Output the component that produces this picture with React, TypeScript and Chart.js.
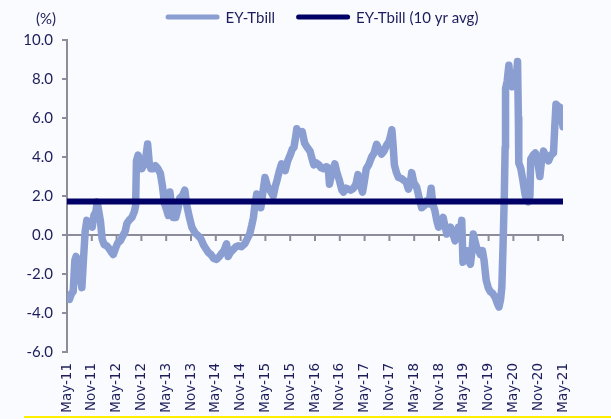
import React, { useEffect, useRef } from 'react';
import { Chart, registerables } from 'chart.js';

Chart.register(...registerables);

// x positions: months elapsed since May-2011
const tickLabels = [
  'May-11', 'Nov-11', 'May-12', 'Nov-12', 'May-13', 'Nov-13', 'May-14', 'Nov-14',
  'May-15', 'Nov-15', 'May-16', 'Nov-16', 'May-17', 'Nov-17', 'May-18', 'Nov-18',
  'May-19', 'Nov-19', 'May-20', 'Nov-20', 'May-21',
];

const monthOffsets = [
  0.0, 0.6, 1.1, 1.5, 1.9, 2.2, 2.6, 3.0, 3.3, 3.6, 4.0, 4.4, 4.8, 5.3, 5.8, 6.1, 6.5, 7.0, 7.3, 7.7,
  8.1, 8.5, 9.0, 9.6, 10.2, 10.8, 11.2, 11.7, 12.3, 12.9, 13.5, 14.1, 14.5, 15.0, 15.7, 16.3, 16.6, 16.8, 17.2, 17.6,
  18.1, 18.6, 19.0, 19.5, 19.9, 20.3, 20.9, 21.4, 22.0, 22.6, 23.1, 23.6, 24.1, 24.5, 24.9, 25.3, 25.7, 26.3, 26.8, 27.3,
  27.9, 28.5, 29.0, 29.5, 30.2, 31.0, 31.8, 32.4, 33.0, 33.6, 34.2, 34.8, 35.5, 36.2, 36.9, 37.4, 38.0, 38.6, 39.0, 39.5,
  40.2, 40.9, 41.5, 42.2, 43.0, 43.6, 44.2, 44.7, 45.1, 45.5, 45.9, 46.4, 46.9, 47.4, 47.9, 48.5, 49.1, 49.9, 50.4, 50.8,
  51.4, 51.9, 52.4, 52.8, 53.4, 54.0, 54.5, 54.9, 55.3, 55.6, 56.0, 56.5, 56.9, 57.5, 58.1, 58.8, 59.3, 59.7, 60.3, 60.9,
  61.5, 62.1, 62.7, 63.2, 63.5, 63.9, 64.4, 64.8, 65.3, 65.9, 66.5, 66.9, 67.5, 68.1, 68.7, 69.3, 69.9, 70.4, 70.9, 71.5,
  71.9, 72.4, 73.0, 73.7, 74.3, 74.9, 75.5, 76.1, 76.7, 77.3, 77.9, 78.3, 78.6, 78.9, 79.2, 79.7, 80.2, 80.9, 81.5, 82.1,
  82.6, 83.0, 83.4, 83.9, 84.6, 85.2, 85.8, 86.4, 87.0, 87.6, 88.1, 88.5, 89.0, 89.5, 89.9, 90.4, 91.0, 91.5, 91.9, 92.3,
  92.8, 93.3, 93.9, 94.3, 94.7, 95.2, 95.5, 95.8, 96.2, 96.7, 97.2, 97.6, 98.0, 98.3, 98.7, 99.1, 99.6, 100.0, 100.5, 100.9,
  101.4, 101.9, 102.4, 103.0, 103.6, 104.1, 104.5, 104.9, 105.2, 105.5, 105.8, 106.0, 106.1, 106.5, 106.9, 107.3, 107.7, 108.1, 108.6, 109.0,
  109.2, 109.3, 109.8, 110.3, 110.8, 111.2, 111.6, 112.0, 112.2, 112.8, 113.3, 113.8, 114.4, 114.8, 115.3, 115.9, 116.5, 117.1, 117.7, 118.0,
  118.3, 118.8, 119.3, 119.7, 120.0,
];

const eyTbill = [
  -3.2, -3.3, -3.0, -2.9, -1.3, -1.1, -1.4, -1.3, -2.3, -2.7, -1.2, 0.2, 0.75, 0.5, 0.6, 0.4, 1.0, 1.2, 1.7, 1.2,
  0.7, -0.2, -0.5, -0.55, -0.7, -0.9, -1.0, -0.7, -0.4, -0.3, -0.05, 0.2, 0.6, 0.75, 0.9, 1.2, 1.5, 3.8, 4.1, 3.8,
  3.4, 3.6, 3.9, 4.67, 3.7, 3.4, 3.4, 3.55, 3.4, 3.15, 2.5, 1.6, 1.3, 1.0, 2.2, 1.5, 0.9, 0.9, 1.3, 1.9,
  2.0, 2.3, 1.5, 1.0, 0.4, 0.1, -0.05, -0.2, -0.5, -0.7, -0.9, -1.0, -1.2, -1.25, -1.1, -0.95, -0.8, -0.45, -1.1, -0.9,
  -0.75, -0.6, -0.55, -0.6, -0.45, -0.2, 0.05, 0.5, 0.9, 1.6, 2.1, 1.6, 1.4, 2.2, 2.95, 2.5, 2.3, 2.0, 2.5, 2.8,
  3.3, 3.65, 3.4, 3.3, 3.8, 4.1, 4.4, 4.5, 5.0, 5.45, 5.2, 5.2, 5.3, 4.7, 4.5, 4.3, 3.9, 3.6, 3.7, 3.6,
  3.45, 3.4, 3.5, 3.45, 2.6, 3.0, 3.3, 3.65, 3.2, 2.8, 2.3, 2.2, 2.4, 2.35, 2.3, 2.4, 2.6, 3.1, 2.6, 2.2,
  2.7, 3.4, 3.6, 4.0, 4.2, 4.65, 4.4, 4.15, 4.3, 4.6, 4.8, 5.1, 5.4, 4.6, 3.6, 3.2, 2.95, 2.9, 2.8, 2.7,
  2.35, 2.6, 3.2, 2.7, 2.45, 1.9, 1.4, 1.5, 1.75, 1.6, 2.4, 1.6, 1.25, 0.7, 0.4, 0.6, 0.9, 0.4, 0.05, 0.2,
  0.4, 0.1, -0.3, 0.0, 0.4, 0.2, 0.75, -1.4, -1.1, -0.8, -1.3, -1.5, -0.8, 0.05, -0.3, -0.65, -0.8, -1.0, -0.8, -1.3,
  -2.3, -2.7, -2.9, -3.0, -3.2, -3.5, -3.7, -3.3, -2.7, -0.5, 2.0, 4.5, 7.5, 7.9, 8.7, 7.8, 7.6, 8.2, 7.8, 8.9,
  6.0, 3.7, 3.4, 2.8, 2.1, 1.8, 1.7, 2.0, 3.9, 4.1, 4.2, 3.9, 3.0, 3.8, 4.3, 4.0, 3.8, 4.1, 4.2, 5.5,
  6.7, 6.6, 6.55, 6.0, 5.55,
];

const avgMonths = [0, 120];
const avgValue = 1.72;

const seriesNames = ['EY-Tbill', 'EY-Tbill (10 yr avg)'];
const seriesColors = ['#8A9ED2', '#000066'];

const TEXT = '#1d1d5c';
const AXIS = '#8c8c9a';

export default function App() {
  const ref = useRef<HTMLCanvasElement>(null);

  useEffect(() => {
    if (!ref.current) return;

    const zeroLine = {
      id: 'zeroLine',
      beforeDatasetsDraw(chart: any) {
        const { ctx, chartArea, scales } = chart;
        const y = scales.y.getPixelForValue(0);
        ctx.save();
        ctx.strokeStyle = AXIS;
        ctx.lineWidth = 2;
        ctx.beginPath();
        ctx.moveTo(chartArea.left, y);
        ctx.lineTo(chartArea.right, y);
        scales.x.ticks.forEach((t: any) => {
          const x = scales.x.getPixelForValue(t.value);
          ctx.moveTo(x, y);
          ctx.lineTo(x, y + 6);
        });
        ctx.stroke();
        ctx.restore();
      },
    };

    const customLegend = {
      id: 'customLegend',
      afterDraw(chart: any) {
        const { ctx, chartArea, scales } = chart;
        ctx.save();
        ctx.font = '15px Lato';
        ctx.textBaseline = 'middle';
        ctx.textAlign = 'left';
        const y = 17;
        const sample = 54;
        const gap = 6;
        const between = 21;
        const widths = seriesNames.map((n) => ctx.measureText(n).width);
        const total = widths.reduce((a, w) => a + sample + gap + w, 0) + between;
        let x = (chartArea.left + chartArea.right) / 2 + 7 - total / 2;
        seriesNames.forEach((n, i) => {
          ctx.strokeStyle = seriesColors[i];
          ctx.lineWidth = 5;
          ctx.lineCap = 'round';
          ctx.beginPath();
          ctx.moveTo(x + 2.5, y);
          ctx.lineTo(x + sample - 2.5, y);
          ctx.stroke();
          ctx.fillStyle = TEXT;
          ctx.fillText(n, x + sample + gap, y + 1);
          x += sample + gap + widths[i] + between;
        });
        // unit label
        ctx.textAlign = 'center';
        ctx.fillText('(%)', scales.y.left + 46, 19);
        ctx.restore();
      },
    };

    const chart = new Chart(ref.current, {
      type: 'line',
      data: {
        datasets: [
          {
            label: seriesNames[0],
            data: monthOffsets.map((m, i) => ({ x: m, y: eyTbill[i] })),
            borderColor: seriesColors[0],
            backgroundColor: seriesColors[0],
            borderWidth: 7.5,
            pointRadius: 0,
            tension: 0,
            borderJoinStyle: 'round',
            borderCapStyle: 'round',
            order: 2,
          },
          {
            label: seriesNames[1],
            data: avgMonths.map((m) => ({ x: m, y: avgValue })),
            borderColor: seriesColors[1],
            backgroundColor: seriesColors[1],
            borderWidth: 6,
            pointRadius: 0,
            order: 1,
          },
        ],
      },
      options: {
        responsive: false,
        animation: false,
        devicePixelRatio: 1,
        layout: { padding: { top: 40, right: 48, left: 0, bottom: 0 } },
        plugins: {
          legend: { display: false },
          tooltip: { enabled: false },
        },
        scales: {
          x: {
            type: 'linear',
            min: 0,
            max: 120,
            afterFit: (s: any) => { s.height = 67; },
            ticks: {
              stepSize: 6,
              autoSkip: false,
              maxRotation: 90,
              minRotation: 90,
              padding: 11,
              color: TEXT,
              font: { family: 'DejaVu Sans', size: 13.5 },
              callback: (v: any) => tickLabels[Math.round(Number(v) / 6)] ?? '',
            },
            grid: { display: false, drawTicks: false },
            border: { display: false },
          },
          y: {
            min: -6,
            max: 10,
            afterFit: (s: any) => { s.width = 67; },
            ticks: {
              stepSize: 2,
              padding: 9,
              color: TEXT,
              font: { family: 'Lato', size: 15 },
              callback: (v: any) => Number(v).toFixed(1),
            },
            grid: {
              display: true,
              drawOnChartArea: false,
              drawTicks: true,
              tickLength: 5,
              color: AXIS,
              lineWidth: 2,
            },
            border: { display: true, color: AXIS, width: 2 },
          },
        },
      },
      plugins: [zeroLine, customLegend],
    } as any);

    return () => chart.destroy();
  }, []);

  return (
    <div style={{ position: 'fixed', left: 0, top: 0, width: 611, height: 419, background: '#FAFBFE', overflow: 'hidden' }}>
      <canvas ref={ref} width={611} height={419} style={{ display: 'block' }} />
      <div style={{ position: 'absolute', left: 24, top: 416, width: 587, height: 2, background: '#FFF000' }} />
    </div>
  );
}
